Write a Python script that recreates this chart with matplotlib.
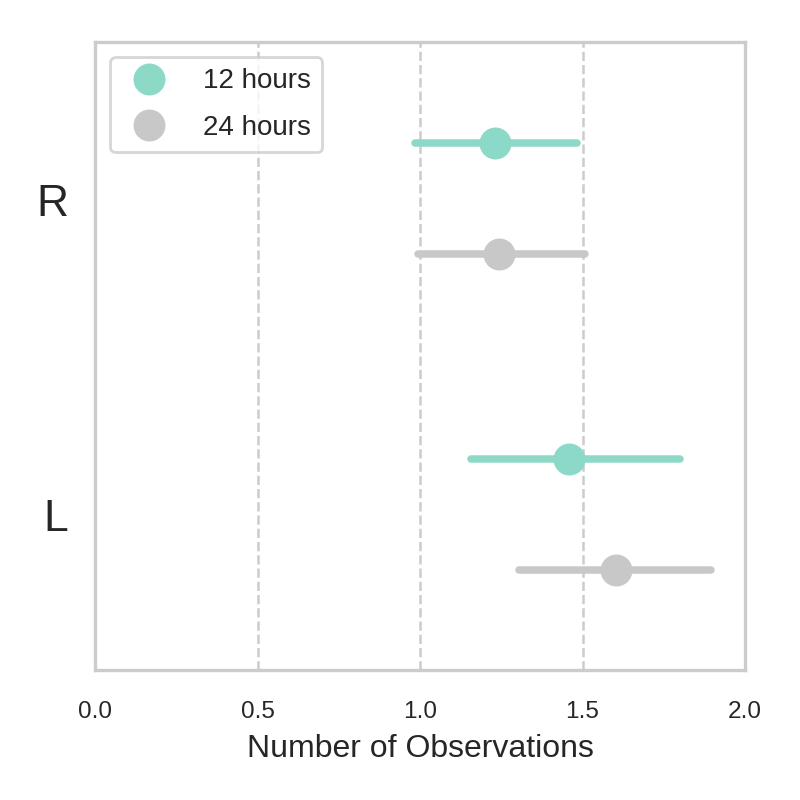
import numpy as np
import matplotlib.pyplot as plt

plt.rcParams['font.family'] = ['Liberation Sans', 'DejaVu Sans']

# Datos
categorias = ['R', 'L']
grupos = ['12 hours', '24 hours']
colores = ['#8dd9c8', '#c8c8c8']
medias = [[1.231, 1.458], [1.243, 1.603]]
ic_bajo = [[0.985, 1.157], [0.994, 1.305]]
ic_alto = [[1.483, 1.800], [1.508, 1.895]]
desplazamiento = [-0.18, 0.172]

fig = plt.figure(figsize=(4, 4), dpi=200)
ax = fig.add_axes([0.11875, 0.1625, 0.8125, 0.785])

y_base = np.arange(len(categorias))
for i, grupo in enumerate(grupos):
    y = y_base + desplazamiento[i]
    for j in range(len(categorias)):
        ax.plot([ic_bajo[i][j], ic_alto[i][j]], [y[j], y[j]], color=colores[i],
                lw=2.7, solid_capstyle='round', zorder=2)
    ax.plot(medias[i], y, 'o', ms=10.5, color=colores[i], label=grupo,
            ls='none', zorder=3)

ax.set_xlim(0, 2)
ax.set_ylim(1.49, -0.5)
ax.set_xticks([0, 0.5, 1.0, 1.5, 2.0])
ax.set_xticklabels(['0.0', '0.5', '1.0', '1.5', '2.0'], fontsize=8.8)
ax.set_yticks(y_base)
ax.set_yticklabels(categorias, fontsize=16)
ax.tick_params(length=0)
ax.tick_params(axis='y', pad=9.5)
ax.tick_params(axis='x', pad=11)
ax.set_xlabel('Number of Observations', fontsize=11.5, color='#262626', labelpad=4)
for lbl in ax.get_xticklabels() + ax.get_yticklabels():
    lbl.set_color('#262626')

ax.grid(True, axis='x', ls='--', color='#cccccc', lw=0.9)
ax.grid(False, axis='y')
ax.set_axisbelow(True)
for s in ax.spines.values():
    s.set_color('#cccccc')
    s.set_linewidth(1.2)

leg = ax.legend(loc='upper left', fontsize=10, markerscale=1.0,
                borderpad=0.4, handletextpad=0.95, labelspacing=0.75,
                bbox_to_anchor=(0.002, 0.998), fancybox=True)
leg.get_frame().set_edgecolor('#cccccc')
leg.get_frame().set_linewidth(1.0)
for t in leg.get_texts():
    t.set_color('#262626')

plt.savefig('out.png', dpi=200)
